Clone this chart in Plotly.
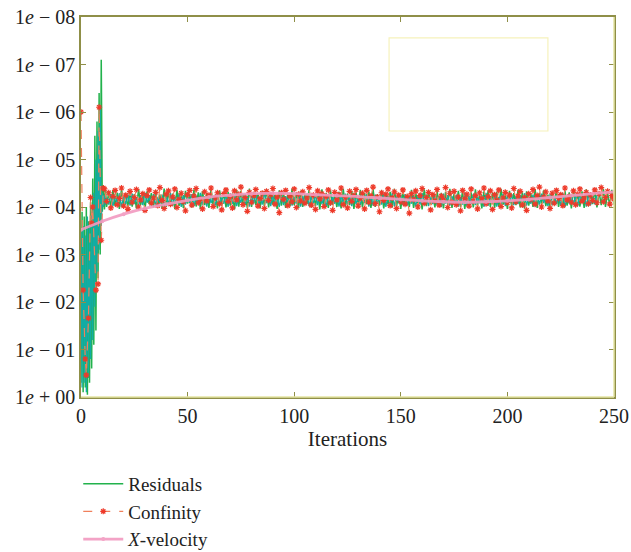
import plotly.graph_objects as go

# ---------------- data ----------------
y_tick_vals = [0, 1, 2, 3, 4, 5, 6, 7, 8]
y_tick_text = ["1<i>e</i> + 00", "1<i>e</i> \u2212 01", "1<i>e</i> \u2212 02", "1<i>e</i> \u2212 03",
               "1<i>e</i> \u2212 04", "1<i>e</i> \u2212 05", "1<i>e</i> \u2212 06", "1<i>e</i> \u2212 07",
               "1<i>e</i> \u2212 08"]
x_tick_vals = [0, 50, 100, 150, 200, 250]

# early iterations (half-iteration samples 0 .. 12)
early_x = [0, 0.5, 1, 1.5, 2, 2.5, 3, 3.5, 4, 4.5, 5, 5.5, 6, 6.5, 7, 7.5, 8, 8.5, 9, 9.5, 10, 10.5, 11, 11.5, 12]
residuals_early = [0.3, 3.9, 0.1, 3.8, 0.2, 4.0, 0.05, 3.7, 0.3, 4.1, 0.6, 4.6, 1.1, 5.5, 1.4, 5.8,
                   2.5, 6.4, 3.0, 7.1, 3.9, 4.45, 3.95, 4.35, 4.0]
teal_early = [3.5, 0.2, 3.6, 0.3, 3.4, 0.1, 3.8, 0.4, 3.6, 0.8, 3.9, 1.2, 4.3, 1.9, 5.0, 2.6,
              5.6, 3.1, 6.1, 3.6, 4.3, 4.0, 4.25, 4.05, 4.2]

# residuals from iteration 13 onward
residuals_late = [
    4.32, 3.98, 4.36, 4.02, 4.30, 3.96, 4.38, 4.05, 4.28, 3.99,
    4.34, 4.01, 4.27, 3.97, 4.37, 4.04, 4.31, 3.95, 4.33, 4.06,
    4.29, 3.99, 4.35, 4.03, 4.26, 3.97, 4.39, 4.00, 4.32, 4.05,
    4.28, 3.96, 4.36, 4.02, 4.30, 3.98, 4.34, 4.07, 4.27, 3.99,
    4.37, 4.01, 4.31, 3.96, 4.33, 4.04, 4.29, 3.98, 4.38, 4.02,
    4.26, 3.97, 4.35, 4.05, 4.30, 3.99, 4.32, 4.03, 4.28, 3.95,
    4.36, 4.01, 4.34, 4.06, 4.27, 3.98, 4.39, 4.00, 4.31, 4.04,
    4.29, 3.97, 4.33, 4.02, 4.37, 3.99, 4.30, 4.05, 4.26, 3.96,
    4.35, 4.03, 4.32, 3.98, 4.28, 4.01, 4.38, 4.04, 4.31, 3.97,
    4.34, 4.00, 4.27, 4.06, 4.36, 3.99, 4.29, 4.02, 4.33, 3.95,
    4.37, 4.03, 4.30, 3.98, 4.35, 4.05, 4.26, 4.00, 4.32, 3.97,
    4.38, 4.01, 4.28, 4.04, 4.34, 3.96, 4.31, 4.02, 4.36, 3.99,
    4.29, 4.06, 4.33, 3.98, 4.37, 4.00, 4.27, 4.03, 4.35, 3.97,
    4.30, 4.05, 4.32, 3.99, 4.38, 4.01, 4.28, 3.96, 4.34, 4.04,
    4.26, 4.00, 4.36, 3.98, 4.31, 4.03, 4.29, 3.95, 4.37, 4.02,
    4.33, 4.06, 4.27, 3.99, 4.35, 4.01, 4.30, 3.97, 4.32, 4.05,
    4.38, 3.98, 4.28, 4.02, 4.34, 4.00, 4.36, 3.96, 4.29, 4.04,
    4.31, 3.99, 4.37, 4.03, 4.26, 3.97, 4.33, 4.06, 4.35, 4.00,
    4.30, 3.98, 4.32, 4.02, 4.38, 4.05, 4.27, 3.96, 4.34, 4.01,
    4.29, 4.04, 4.36, 3.99, 4.31, 3.97, 4.33, 4.03, 4.28, 4.00,
    4.37, 3.98, 4.30, 4.06, 4.35, 4.02, 4.26, 3.95, 4.32, 4.04,
    4.38, 4.00, 4.29, 3.99, 4.34, 4.03, 4.31, 3.97, 4.36, 4.05,
    4.27, 4.01, 4.33, 3.98, 4.37, 4.02, 4.30, 4.06, 4.35, 3.99,
    4.32, 4.04, 4.38, 4.00, 4.29, 4.03, 4.36, 4.05,
]

teal_late = [
    4.05, 4.27, 4.02, 4.24, 4.08, 4.29, 4.01, 4.22, 4.06, 4.26,
    4.03, 4.28, 4.07, 4.21, 4.00, 4.25, 4.04, 4.30, 4.09, 4.23,
    4.02, 4.27, 4.05, 4.20, 4.08, 4.26, 4.01, 4.24, 4.06, 4.29,
    4.03, 4.22, 4.07, 4.28, 4.00, 4.25, 4.05, 4.21, 4.09, 4.27,
    4.02, 4.24, 4.06, 4.30, 4.04, 4.23, 4.01, 4.26, 4.08, 4.22,
    4.03, 4.28, 4.05, 4.20, 4.07, 4.25, 4.00, 4.29, 4.06, 4.24,
    4.02, 4.21, 4.09, 4.27, 4.04, 4.23, 4.01, 4.26, 4.07, 4.28,
    4.03, 4.22, 4.05, 4.30, 4.08, 4.24, 4.02, 4.25, 4.06, 4.20,
    4.00, 4.27, 4.04, 4.23, 4.09, 4.29, 4.03, 4.21, 4.07, 4.26,
    4.01, 4.24, 4.05, 4.28, 4.02, 4.22, 4.08, 4.25, 4.04, 4.30,
    4.06, 4.23, 4.00, 4.27, 4.03, 4.21, 4.07, 4.26, 4.01, 4.24,
    4.09, 4.28, 4.05, 4.22, 4.02, 4.29, 4.06, 4.20, 4.04, 4.25,
    4.08, 4.27, 4.01, 4.23, 4.03, 4.26, 4.07, 4.21, 4.05, 4.28,
    4.00, 4.24, 4.06, 4.30, 4.02, 4.22, 4.09, 4.25, 4.04, 4.27,
    4.03, 4.21, 4.07, 4.26, 4.01, 4.23, 4.05, 4.29, 4.08, 4.24,
    4.02, 4.20, 4.06, 4.27, 4.04, 4.22, 4.00, 4.28, 4.07, 4.25,
    4.03, 4.23, 4.09, 4.26, 4.01, 4.21, 4.05, 4.29, 4.02, 4.24,
    4.06, 4.27, 4.04, 4.22, 4.08, 4.25, 4.00, 4.30, 4.03, 4.23,
    4.07, 4.26, 4.01, 4.21, 4.05, 4.28, 4.02, 4.24, 4.09, 4.27,
    4.04, 4.22, 4.06, 4.25, 4.00, 4.29, 4.03, 4.20, 4.07, 4.26,
    4.01, 4.24, 4.05, 4.28, 4.08, 4.23, 4.02, 4.27, 4.04, 4.21,
    4.06, 4.25, 4.03, 4.30, 4.00, 4.22, 4.07, 4.26, 4.05, 4.24,
    4.02, 4.28, 4.09, 4.23, 4.01, 4.27, 4.04, 4.21, 4.06, 4.25,
]

confinity_early_x = [0, 1, 2, 2.5, 3.5, 4.5, 5, 5.5, 7, 8, 8.5, 9.5, 10.5]
confinity_early = [6.0, 2.25, 0.8, 0.46, 1.66, 4.2, 3.66, 4.0, 2.25, 2.38, 6.1, 3.3, 4.4]
confinity_late = [
    4.38, 4.12, 4.30, 3.98, 4.22, 4.35, 4.05, 4.18, 4.40, 4.02,
    4.25, 3.95, 4.33, 4.10, 4.20, 4.37, 4.00, 4.15, 4.28, 3.93,
    4.24, 4.36, 4.08, 4.19, 4.31, 4.03, 4.41, 4.14, 3.97, 4.27,
    4.34, 4.06, 4.21, 4.38, 3.99, 4.16, 4.29, 4.11, 3.92, 4.26,
    4.35, 4.04, 4.23, 4.39, 4.09, 4.17, 3.96, 4.32, 4.13, 4.25,
    4.40, 4.01, 4.19, 4.30, 4.07, 3.94, 4.28, 4.36, 4.12, 4.22,
    3.98, 4.34, 4.15, 4.27, 4.42, 4.05, 4.20, 3.91, 4.31, 4.10,
    4.24, 4.37, 4.02, 4.18, 4.29, 3.97, 4.33, 4.14, 4.26, 4.39,
    4.06, 4.21, 3.88, 4.30, 4.16, 4.35, 4.03, 4.23, 4.11, 4.38,
    3.99, 4.27, 4.13, 4.32, 4.08, 4.19, 4.41, 4.04, 4.25, 3.95,
    4.34, 4.17, 4.28, 4.01, 4.22, 4.36, 4.09, 3.93, 4.31, 4.15,
    4.26, 4.40, 4.05, 4.20, 3.98, 4.33, 4.12, 4.24, 4.37, 4.02,
    4.18, 4.29, 3.96, 4.35, 4.10, 4.23, 4.42, 4.07, 4.21, 3.90,
    4.30, 4.14, 4.27, 4.38, 4.03, 4.19, 4.32, 3.97, 4.25, 4.11,
    4.36, 4.06, 4.22, 3.87, 4.28, 4.16, 4.34, 4.00, 4.24, 4.39,
    4.08, 4.20, 4.31, 3.94, 4.26, 4.13, 4.37, 4.04, 4.23, 4.15,
    4.41, 3.99, 4.29, 4.10, 4.33, 4.05, 4.21, 3.92, 4.35, 4.17,
    4.27, 4.02, 4.38, 4.12, 4.24, 3.96, 4.30, 4.18, 4.40, 4.07,
    4.22, 4.34, 3.95, 4.26, 4.14, 4.36, 4.01, 4.19, 4.31, 4.09,
    4.25, 3.98, 4.39, 4.11, 4.23, 4.33, 4.04, 4.20, 3.93, 4.28,
    4.16, 4.37, 4.06, 4.24, 4.42, 4.00, 4.21, 4.32, 4.13, 3.97,
    4.29, 4.08, 4.35, 4.18, 4.26, 4.03, 4.40, 4.15, 4.22, 4.10,
    4.34, 4.05, 4.27, 4.38, 4.12, 4.19, 4.31, 4.07, 4.25, 4.14,
    4.36, 4.09, 4.28, 4.41, 4.11, 4.20, 4.33, 4.06, 4.24, 4.17,
]

xvel_x = [0, 10, 20, 30, 40, 50, 60, 70, 80, 90, 100, 110, 120, 130, 140, 150, 160, 170, 180, 190,
          200, 210, 220, 230, 240, 250]
xvel = [3.52, 3.70, 3.85, 3.97, 4.06, 4.14, 4.21, 4.25, 4.28, 4.29, 4.28, 4.26, 4.24, 4.22, 4.19,
        4.16, 4.13, 4.11, 4.10, 4.11, 4.13, 4.16, 4.20, 4.24, 4.28, 4.32]

# ---------------- assemble ----------------
res_x = early_x + list(range(13, 13 + len(residuals_late)))
res_y = residuals_early + residuals_late
teal_x = early_x + list(range(13, 13 + len(teal_late)))
teal_y = teal_early + teal_late
conf_x = confinity_early_x + list(range(11, 11 + len(confinity_late)))
conf_y = confinity_early + confinity_late

FONT = "Liberation Serif, Times New Roman, serif"
OLIVE = "#8f8f48"
PALE = "#e4e4a4"

fig = go.Figure()
fig.add_trace(go.Scatter(x=res_x, y=res_y, mode="lines", name="Residuals",
                         line=dict(color="#22b24c", width=1.5), legendrank=1))
fig.add_trace(go.Scatter(x=teal_x, y=teal_y, mode="lines", name="teal", showlegend=False,
                         line=dict(color="#12aca4", width=1.3)))
fig.add_trace(go.Scatter(x=conf_x, y=conf_y, mode="lines+markers", name="Confinity",
                         line=dict(color="#f0805c", width=1.2, dash="dash"),
                         marker=dict(symbol="asterisk-open", size=5, color="#ee3a2a",
                                     line=dict(color="#f05a30", width=1.2)), legendrank=2))
fig.add_trace(go.Scatter(x=xvel_x, y=xvel, mode="lines+markers", name="<i>X</i>-velocity",
                         line=dict(color="#f29ac0", width=2.8, shape="spline"),
                         marker=dict(color="#f29ac0", size=4), opacity=0.9, legendrank=3))

fig.update_layout(
    width=631, height=552,
    margin=dict(l=81, r=17, t=17, b=155, autoexpand=False),
    paper_bgcolor="white", plot_bgcolor="white",
    font=dict(family=FONT, size=20, color="#222222"),
    showlegend=True,
    legend=dict(xref="container", yref="container", x=0.124, y=0.158, xanchor="left", yanchor="top",
                font=dict(family=FONT, size=19, color="#222222"),
                bgcolor="rgba(0,0,0,0)", tracegroupgap=0, itemwidth=40),
    xaxis=dict(range=[0, 250], tickvals=x_tick_vals, ticks="inside", ticklen=5,
               tickcolor=OLIVE, showline=True, linecolor=OLIVE, linewidth=1.5, mirror="ticks",
               showgrid=False, zeroline=False, automargin=False, ticklabeloverflow="allow",
               title=dict(text="Iterations", font=dict(family=FONT, size=21), standoff=4),
               tickfont=dict(family=FONT, size=20)),
    yaxis=dict(range=[0, 8], tickvals=y_tick_vals, ticktext=y_tick_text, ticks="inside", ticklen=5,
               tickcolor=OLIVE, showline=True, linecolor=OLIVE, linewidth=1.5, mirror="ticks",
               showgrid=False, zeroline=False, automargin=False, ticklabeloverflow="allow",
               tickfont=dict(family=FONT, size=20)),
    shapes=[
        # paler bottom and right frame lines
        dict(type="line", xref="paper", yref="paper", x0=0, x1=1, y0=0, y1=0,
             line=dict(color=PALE, width=1.5)),
        dict(type="line", xref="paper", yref="paper", x0=1, x1=1, y0=0, y1=1,
             line=dict(color=PALE, width=1.5)),
        # empty legend box
        dict(type="rect", xref="paper", yref="paper", x0=0.578, x1=0.876, y0=0.70, y1=0.945,
             line=dict(color="#f6f2bc", width=1.2)),
    ],
)

# remove the default page margin so the figure fills the window exactly; hide the mode bar
fig.write_html("out.html",
               config={"displayModeBar": False},
               post_script="document.body.style.margin='0';document.body.style.overflow='hidden';")
